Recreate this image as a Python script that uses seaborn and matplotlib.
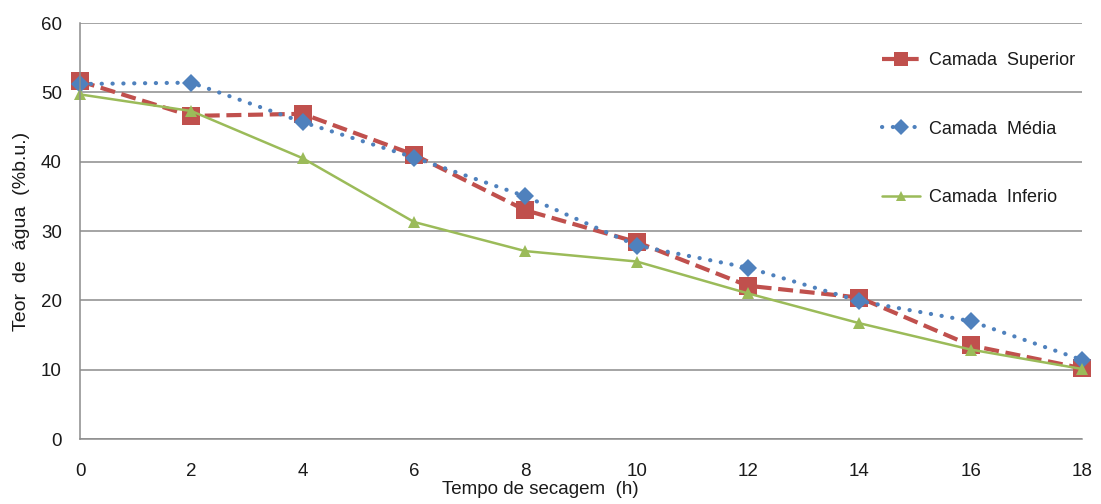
import matplotlib
matplotlib.use("Agg")
import matplotlib.pyplot as plt
import seaborn as sns
import pandas as pd

# Drying time (h) and water content (% wet basis) for each layer
tempo = [0, 2, 4, 6, 8, 10, 12, 14, 16, 18]
superior = [51.6, 46.6, 46.9, 41.0, 33.0, 28.4, 22.1, 20.4, 13.5, 10.2]
media = [51.2, 51.4, 45.7, 40.6, 35.0, 27.9, 24.7, 19.9, 17.0, 11.4]
inferior = [49.7, 47.3, 40.5, 31.3, 27.1, 25.6, 21.0, 16.7, 12.9, 10.1]

series_names = ["Camada  Superior", "Camada  Média", "Camada  Inferio"]
x_ticks = [0, 2, 4, 6, 8, 10, 12, 14, 16, 18]
y_ticks = [0, 10, 20, 30, 40, 50, 60]

sns.set_theme(style="white")
plt.rcParams["font.family"] = ["Liberation Sans", "DejaVu Sans"]

fig = plt.figure(figsize=(11.01, 5.04), dpi=100)
ax = fig.add_axes([80 / 1101, 1 - 439 / 504, (1082 - 80) / 1101, (439 - 23) / 504])

df = pd.DataFrame({"t": tempo, "sup": superior, "med": media, "inf": inferior})

styles = [
    ("sup", series_names[0], dict(color="#C0504D", lw=3.0, linestyle=(0, (3.6, 1.6)),
                                  marker="s", markersize=12.5, dash_capstyle="butt")),
    ("med", series_names[1], dict(color="#4F81BD", lw=3.0, linestyle=(0, (0.05, 2.55)),
                                  marker="D", markersize=9.5, dash_capstyle="round")),
    ("inf", series_names[2], dict(color="#9BBB59", lw=1.8, linestyle="-",
                                  marker="^", markersize=9)),
]

for col, name, kw in styles:
    sns.lineplot(data=df, x="t", y=col, ax=ax, label=name,
                 markeredgewidth=0, clip_on=False, **kw)

ax.set_xlim(0, 18)
ax.set_ylim(0, 60)
ax.set_xticks(x_ticks)
ax.set_yticks(y_ticks)
ax.grid(axis="y", color="#8c8c8c", lw=1.1)
ax.grid(axis="x", visible=False)
ax.set_axisbelow(True)

for s in ["top", "right"]:
    ax.spines[s].set_visible(False)
for s in ["left", "bottom"]:
    ax.spines[s].set_color("#8c8c8c")
    ax.spines[s].set_linewidth(1.1)

ax.tick_params(axis="x", length=0, pad=17, labelsize=13.5, labelcolor="#1a1a1a")
ax.tick_params(axis="y", length=0, pad=13, labelsize=13.5, labelcolor="#1a1a1a")

ax.set_xlabel("Tempo de secagem  (h)", fontsize=13.5, color="#1a1a1a")
ax.xaxis.set_label_coords(0.459, -0.102)
ax.set_ylabel("Teor  de  água  (%b.u.)", fontsize=14, labelpad=8, color="#1a1a1a")

leg = ax.legend(loc="upper left", bbox_to_anchor=(866 / 1101, 1 - 36 / 504),
                bbox_transform=fig.transFigure, frameon=False, fontsize=13,
                labelspacing=2.85, handlelength=2.1, handletextpad=0.5,
                markerscale=0.85)
for t in leg.get_texts():
    t.set_color("#1a1a1a")

fig.savefig("out.png", dpi=100)
